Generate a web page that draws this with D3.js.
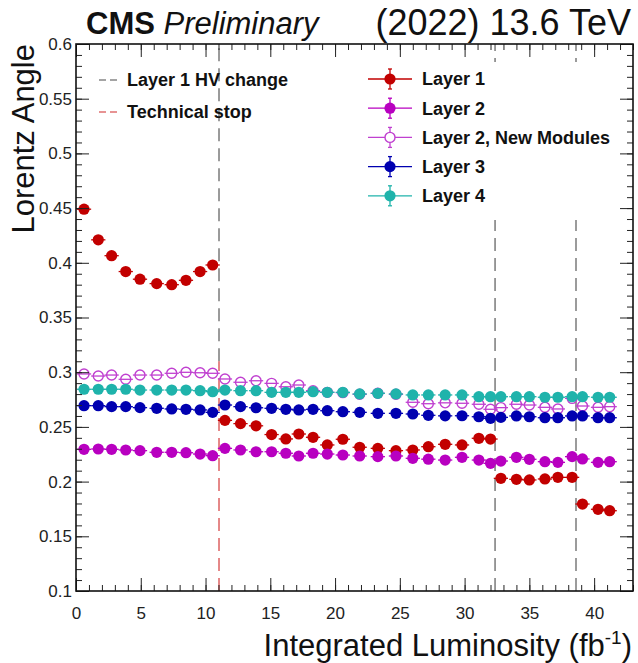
<!DOCTYPE html>
<html>
<head>
<meta charset="utf-8">
<script src="https://cdn.jsdelivr.net/npm/d3@7"></script>
<style>
  html, body { margin: 0; padding: 0; background: #fff; }
  svg { display: block; font-family: "Liberation Sans", Arial, Helvetica, sans-serif; }
</style>
</head>
<body>
<svg id="chart" width="638" height="663"></svg>
<script>
// Integrated luminosity of each measurement (fb^-1)
const lumi = [0.62, 1.72, 2.75, 3.84, 4.94, 6.23, 7.39, 8.49, 9.58, 10.55,
  11.5, 12.7, 13.9, 15.1, 16.2, 17.2, 18.3, 19.4, 20.6, 21.9, 23.3, 24.7, 26.0,
  27.2, 28.5, 29.8, 31.1, 32.0, 32.8, 34.0, 35.0, 36.2, 37.2, 38.3, 39.1, 40.3, 41.2];

// Lorentz angle per barrel pixel layer
const layer1 = [0.449, 0.421, 0.4065, 0.392, 0.385, 0.381, 0.380, 0.384, 0.392, 0.398,
  0.256, 0.253, 0.251, 0.243, 0.239, 0.2435, 0.2405, 0.2335, 0.2387, 0.2314, 0.2304, 0.2283, 0.2289,
  0.2319, 0.2341, 0.2335, 0.2396, 0.2389, 0.203, 0.2021, 0.2015, 0.2024, 0.2039, 0.2039, 0.1795, 0.1747, 0.1734];
const layer2 = [0.2295, 0.2298, 0.2295, 0.2289, 0.2283, 0.2268, 0.2268, 0.2264, 0.2252, 0.2237,
  0.2304, 0.2289, 0.2273, 0.2273, 0.2259, 0.2234, 0.2259, 0.2252, 0.2243, 0.2234, 0.2228, 0.2234, 0.2213,
  0.2205, 0.2197, 0.2222, 0.2197, 0.2167, 0.2188, 0.2222, 0.2204, 0.2182, 0.2176, 0.2228, 0.2207, 0.2176, 0.2182];
const layer2New = [0.2984, 0.2965, 0.2974, 0.2935, 0.2974, 0.2974, 0.299, 0.2999, 0.2995, 0.299,
  0.2938, 0.2908, 0.2922, 0.2898, 0.2867, 0.2883, 0.2831, 0.2816, 0.2813, 0.2798, 0.2807, 0.2798, 0.2725,
  0.2712, 0.272, 0.2716, 0.2707, 0.2661, 0.2676, 0.2707, 0.27, 0.2679, 0.2664, 0.2761, 0.2691, 0.2679, 0.2685];
const layer3 = [0.2694, 0.2694, 0.2685, 0.2685, 0.2676, 0.267, 0.2664, 0.2661, 0.2655, 0.2633,
  0.27, 0.2685, 0.2675, 0.267, 0.2661, 0.2655, 0.2661, 0.2648, 0.2639, 0.2633, 0.2624, 0.2624, 0.2618,
  0.2606, 0.2601, 0.2602, 0.2593, 0.2578, 0.2587, 0.26, 0.2593, 0.2584, 0.2584, 0.26, 0.26, 0.2584, 0.2584];
const layer4 = [0.2844, 0.2844, 0.2844, 0.2844, 0.2837, 0.2837, 0.2837, 0.2837, 0.2831, 0.2822,
  0.2837, 0.2831, 0.2831, 0.2816, 0.2816, 0.2816, 0.2822, 0.2816, 0.2816, 0.2801, 0.2807, 0.2801, 0.2792,
  0.2792, 0.2792, 0.2792, 0.2776, 0.2776, 0.2776, 0.2776, 0.2776, 0.2771, 0.2771, 0.2776, 0.2776, 0.2771, 0.2771];

// Half width of each luminosity interval (fb^-1)
const lumiHalfWidth = 0.55;

// Series names, colours and marker style
const seriesNames = ["Layer 1", "Layer 2", "Layer 2, New Modules", "Layer 3", "Layer 4"];
const seriesColors = ["#c20000", "#b800c0", "#c040d0", "#0000b0", "#1fb3ab"];
const seriesOpen = [false, false, true, false, false];
const seriesValues = [layer1, layer2, layer2New, layer3, layer4];

// Vertical markers: HV changes of layer 1 and the technical stop, with their extents in Lorentz angle
const hvChange = [11.04, 32.35, 38.6];
const hvChangeFrom = [0.31, 0.1, 0.1];
const technicalStop = [11.04];
const technicalStopTo = [0.31];

// Axis ticks
const xMajorTicks = [0, 5, 10, 15, 20, 25, 30, 35, 40];
const xMinorTicks = d3.range(0, 44, 1);
const yMajorTicks = [0.1, 0.15, 0.2, 0.25, 0.3, 0.35, 0.4, 0.45, 0.5, 0.55, 0.6];
const yMinorTicks = d3.range(10, 61, 1).map(v => v / 100);

const svg = d3.select("#chart");
const plotLeft = 76, plotRight = 633, plotTop = 44, plotBottom = 591;

const x = d3.scaleLinear().domain([0, 43]).range([plotLeft, plotRight]);
const y = d3.scaleLinear().domain([0.1, 0.6]).range([plotBottom, plotTop]);

// Vertical dashed lines
const dash = "13,7";
svg.append("g").selectAll("line").data(hvChange).join("line")
  .attr("x1", d => x(d)).attr("x2", d => x(d))
  .attr("y1", (d, i) => y(hvChangeFrom[i])).attr("y2", y(0.6))
  .attr("stroke", "#4a4a4a").attr("stroke-width", 1.1).attr("stroke-dasharray", dash);
svg.append("g").selectAll("line").data(technicalStop).join("line")
  .attr("x1", d => x(d)).attr("x2", d => x(d))
  .attr("y1", y(0.1)).attr("y2", (d, i) => y(technicalStopTo[i]))
  .attr("stroke", "#d02828").attr("stroke-width", 1.1).attr("stroke-dasharray", dash);

// Data points with luminosity-interval bars
const r = 5.6;
seriesValues.forEach((vals, si) => {
  const color = seriesColors[si];
  const g = svg.append("g");
  const pts = vals.map((v, i) => ({ l: lumi[i], v }));
  g.selectAll("line").data(pts).join("line")
    .attr("x1", d => x(d.l - lumiHalfWidth)).attr("x2", d => x(d.l + lumiHalfWidth))
    .attr("y1", d => y(d.v)).attr("y2", d => y(d.v))
    .attr("stroke", color).attr("stroke-width", 1.3);
  g.selectAll("circle").data(pts).join("circle")
    .attr("cx", d => x(d.l)).attr("cy", d => y(d.v)).attr("r", seriesOpen[si] ? r - 0.6 : r)
    .attr("fill", seriesOpen[si] ? "none" : color)
    .attr("stroke", color).attr("stroke-width", seriesOpen[si] ? 1.4 : 0);
});

// Legend for the data series (white box)
const legX = 390, legY0 = 79, legDy = 29.2;
const leg = svg.append("g");
leg.append("rect").attr("x", 358).attr("y", 62).attr("width", 268).attr("height", 158).attr("fill", "#fff");
seriesNames.forEach((name, i) => {
  const cy = legY0 + i * legDy, color = seriesColors[i];
  leg.append("line").attr("x1", legX - 22).attr("x2", legX + 22).attr("y1", cy).attr("y2", cy)
    .attr("stroke", color).attr("stroke-width", 1.3);
  leg.append("line").attr("x1", legX).attr("x2", legX).attr("y1", cy - 10).attr("y2", cy + 10)
    .attr("stroke", color).attr("stroke-width", 1.3);
  [cy - 10, cy + 10].forEach(yy => leg.append("line").attr("x1", legX - 2).attr("x2", legX + 2)
    .attr("y1", yy).attr("y2", yy).attr("stroke", color).attr("stroke-width", 1.3));
  leg.append("circle").attr("cx", legX).attr("cy", cy).attr("r", seriesOpen[i] ? r - 0.6 : r)
    .attr("fill", seriesOpen[i] ? "#fff" : color).attr("stroke", color)
    .attr("stroke-width", seriesOpen[i] ? 1.4 : 0);
  leg.append("text").attr("x", 422).attr("y", cy).attr("dy", "0.35em")
    .attr("font-size", 18).attr("font-weight", "bold").attr("fill", "#111").text(name);
});

// Legend for the vertical lines
const lineLegend = [["Layer 1 HV change", "#4a4a4a"], ["Technical stop", "#d02828"]];
lineLegend.forEach(([name, color], i) => {
  const cy = 80 + i * 32;
  svg.append("line").attr("x1", 99).attr("x2", 117).attr("y1", cy).attr("y2", cy)
    .attr("stroke", color).attr("stroke-width", 1.2).attr("stroke-dasharray", "7,4");
  svg.append("text").attr("x", 127).attr("y", cy).attr("dy", "0.35em")
    .attr("font-size", 18).attr("font-weight", "bold").attr("fill", "#111").text(name);
});

// Axes: major and minor ticks pointing into the frame on all four sides
const tickFmt = d3.format(".2~f");
const axisG = svg.append("g");
axisG.append("g").attr("transform", `translate(0,${plotBottom})`)
  .call(d3.axisBottom(x).tickValues(xMajorTicks).tickSize(-13).tickPadding(16).tickFormat(d3.format("d")));
axisG.append("g").attr("transform", `translate(0,${plotBottom})`)
  .call(d3.axisBottom(x).tickValues(xMinorTicks).tickSize(-6).tickFormat(""));
axisG.append("g").attr("transform", `translate(0,${plotTop})`)
  .call(d3.axisTop(x).tickValues(xMajorTicks).tickSize(-13).tickFormat(""));
axisG.append("g").attr("transform", `translate(0,${plotTop})`)
  .call(d3.axisTop(x).tickValues(xMinorTicks).tickSize(-6).tickFormat(""));
axisG.append("g").attr("transform", `translate(${plotLeft},0)`)
  .call(d3.axisLeft(y).tickValues(yMajorTicks).tickSize(-13).tickPadding(4).tickFormat(tickFmt));
axisG.append("g").attr("transform", `translate(${plotLeft},0)`)
  .call(d3.axisLeft(y).tickValues(yMinorTicks).tickSize(-6).tickFormat(""));
axisG.append("g").attr("transform", `translate(${plotRight},0)`)
  .call(d3.axisRight(y).tickValues(yMajorTicks).tickSize(-13).tickFormat(""));
axisG.append("g").attr("transform", `translate(${plotRight},0)`)
  .call(d3.axisRight(y).tickValues(yMinorTicks).tickSize(-6).tickFormat(""));
axisG.selectAll(".domain").remove();
axisG.selectAll(".tick line").attr("stroke", "#222").attr("stroke-width", 1);
axisG.selectAll(".tick text").attr("font-size", 17).attr("fill", "#222")
  .attr("font-family", "'Liberation Sans', Arial, sans-serif");

// Frame
svg.append("rect").attr("x", plotLeft).attr("y", plotTop)
  .attr("width", plotRight - plotLeft).attr("height", plotBottom - plotTop)
  .attr("fill", "none").attr("stroke", "#111").attr("stroke-width", 1.6);

// Axis titles
const xt = svg.append("text").attr("x", 632).attr("y", 656).attr("text-anchor", "end")
  .attr("font-size", 31).attr("fill", "#111");
xt.append("tspan").text("Integrated Luminosity (fb");
xt.append("tspan").attr("font-size", 19).attr("dy", -12).text("-1");
xt.append("tspan").attr("dy", 12).text(")");

svg.append("text").attr("transform", "translate(34,44) rotate(-90)").attr("text-anchor", "end")
  .attr("font-size", 31).attr("fill", "#111").text("Lorentz Angle");

// Header
const hd = svg.append("text").attr("x", 86).attr("y", 34).attr("font-size", 31).attr("fill", "#111");
hd.append("tspan").attr("font-weight", "bold").text("CMS");
hd.append("tspan").attr("font-style", "italic").text(" Preliminary");
svg.append("text").attr("x", 631).attr("y", 35).attr("text-anchor", "end")
  .attr("font-size", 36).attr("fill", "#111").text("(2022) 13.6 TeV");
</script>
</body>
</html>
